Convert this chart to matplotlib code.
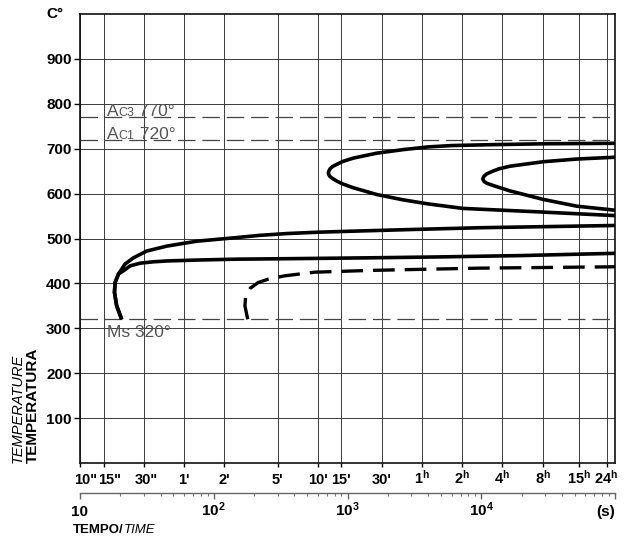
import matplotlib
matplotlib.use('Agg')
import matplotlib.pyplot as plt
import matplotlib.transforms as mtrans
from matplotlib.ticker import LogLocator, NullFormatter, NullLocator

plt.rcParams['font.family'] = ['Liberation Sans', 'DejaVu Sans']
plt.rcParams['mathtext.fontset'] = 'custom'
plt.rcParams['mathtext.rm'] = 'Liberation Sans'
plt.rcParams['mathtext.bf'] = 'Liberation Sans:bold'
plt.rcParams['mathtext.it'] = 'Liberation Sans:italic'

# ---------------- data ----------------
time_ticks = [10, 15, 30, 60, 120, 300, 600, 900, 1800, 3600, 7200, 14400, 28800, 54000, 86400]
time_labels = ['10"', '15"', '30"', "1'", "2'", "5'", "10'", "15'", "30'",
               r"1$^\mathbf{h}$", r"2$^\mathbf{h}$", r"4$^\mathbf{h}$", r"8$^\mathbf{h}$",
               r"15$^\mathbf{h}$", r"24$^\mathbf{h}$"]
temp_ticks = [100, 200, 300, 400, 500, 600, 700, 800, 900]
temp_labels = ['100', '200', '300', '400', '500', '600', '700', '800', '900']
decade_ticks = [10, 100, 1000, 10000]
decade_labels = ['10', r'10$^\mathbf{2}$', r'10$^\mathbf{3}$', r'10$^\mathbf{4}$']

ref_temps = [770, 720, 320]
ref_names = ['Ac3', 'Ac1', 'Ms']

# bainite start curve (upper solid)
bs_time = [20.5, 18.8, 18.1, 18.3, 19.4, 21.7, 25.1, 31.5, 44.5, 74.6, 148, 220, 351,
           600, 1000, 3000, 9800, 100000]
bs_temp = [320, 350, 380, 402, 421, 443, 457, 472, 483, 494, 502, 507, 511,
           514, 516, 520, 524, 529]
# lower solid curve
bl_time = [20.5, 18.8, 18.1, 18.3, 19.4, 21.1, 23.7, 28.1, 35, 44.5, 74.6, 150, 351,
           1500, 4900, 20000, 100000]
bl_temp = [320, 350, 380, 402, 421, 428, 439, 445, 448, 450, 452, 454, 455,
           457, 459, 462, 467]
# dashed curve
bd_time = [179.5, 171, 173, 187, 215, 256, 341, 571, 1500, 9800, 100000]
bd_temp = [320, 350, 369, 389, 402, 409.5, 417, 425, 429, 434, 437]
# outer pearlite C-curve
po_time = [100000, 30000, 12000, 6000, 4018, 2612, 1652, 1105, 930, 830, 770, 740, 725, 719,
           725, 740, 770, 830, 930, 1105, 1652, 2612, 4018, 7300, 24000, 100000]
po_temp = [712, 711, 709, 707, 704, 698, 690, 679, 672, 665, 660, 655, 650, 646,
           642, 638, 634, 628, 621, 613, 598, 586, 577, 567, 560, 551]
# inner pearlite C-curve
pi_time = [100000, 51800, 29100, 16400, 13500, 12000, 11000, 10500, 10260,
           10500, 11000, 12000, 13500, 16400, 29100, 51800, 100000]
pi_temp = [681, 677, 671, 661, 655, 649, 644, 639, 633,
           627, 623, 619, 614, 606, 587, 572, 563]

# ---------------- figure ----------------
W, H = 629, 537
fig = plt.figure(figsize=(W / 100, H / 100), dpi=100)
L, R, T, B = 80, 615, 14, 463
ax = fig.add_axes([L / W, 1 - B / H, (R - L) / W, (B - T) / H])
ax.set_xscale('log')
ax.set_xlim(10, 100000)
ax.set_ylim(0, 1000)

ax.set_xticks(time_ticks)
ax.set_xticklabels(time_labels, fontsize=10.5, fontweight='bold')
ax.xaxis.set_minor_locator(NullLocator())
ax.set_yticks(temp_ticks)
ax.set_yticklabels(temp_labels, fontsize=11, fontweight='bold')
ax.tick_params(axis='x', direction='out', length=3, width=1, pad=12)
ax.tick_params(axis='y', direction='out', length=4, width=1, pad=2)
for lab in ax.get_xticklabels():
    lab.set_va('baseline')
shifts = {0: 6, 1: 6, 2: 3}
for i, lab in enumerate(ax.get_xticklabels()):
    if i in shifts:
        lab.set_transform(lab.get_transform() +
                          mtrans.ScaledTranslation(shifts[i] / 100, 0, fig.dpi_scale_trans))
ax.grid(True, color='#3a3a3a', linewidth=0.7)
for s in ax.spines.values():
    s.set_linewidth(1.2)
    s.set_color('#111111')

ax.text(-0.032, 1.0, 'C°', transform=ax.transAxes, ha='right', va='center',
        fontsize=11, fontweight='bold')

# reference dashed lines
for temp in ref_temps:
    ax.axhline(temp, color='#444444', linewidth=0.9, dashes=(14, 5.5), zorder=2)

label_color = '#555555'
for name, temp in zip(ref_names, ref_temps):
    if name == 'Ms':
        ax.text(15.9, temp - 12, 'Ms 320°', fontsize=12.5, color=label_color,
                ha='left', va='top')
    else:
        t1 = ax.text(15.9, temp + 2, 'A', fontsize=12.5, color=label_color,
                     ha='left', va='baseline')
        t2 = ax.annotate('C' + name[-1], xy=(1, 0), xycoords=t1, fontsize=9,
                         color=label_color, ha='left', va='bottom')
        ax.annotate(' %d°' % temp, xy=(1, 0), xycoords=t2, fontsize=12.5,
                    color=label_color, ha='left', va='bottom')

# curves
lw = 2.6
ax.plot(bs_time, bs_temp, color='black', linewidth=lw, solid_capstyle='butt',
        solid_joinstyle='round', zorder=3)
ax.plot(bl_time, bl_temp, color='black', linewidth=lw, solid_capstyle='butt',
        solid_joinstyle='round', zorder=3)
ax.plot(bd_time, bd_temp, color='black', linewidth=2.4, dashes=(6.5, 3), zorder=3)
ax.plot(po_time, po_temp, color='black', linewidth=lw, solid_joinstyle='round', zorder=3)
ax.plot(pi_time, pi_temp, color='black', linewidth=lw, solid_joinstyle='round', zorder=3)

# lower seconds axis
ax2 = fig.add_axes([L / W, 1 - 493 / H, (R - L) / W, 0.001])
ax2.set_xscale('log')
ax2.set_xlim(10, 100000)
ax2.set_yticks([])
for k in ['top', 'left', 'right']:
    ax2.spines[k].set_visible(False)
ax2.spines['bottom'].set_color('#666666')
ax2.spines['bottom'].set_linewidth(1.0)
ax2.patch.set_visible(False)
ax2.set_xticks(decade_ticks + [100000])
ax2.set_xticklabels(decade_labels + [''], fontsize=11, fontweight='bold')
ax2.xaxis.set_minor_locator(LogLocator(base=10, subs=range(2, 10)))
ax2.xaxis.set_minor_formatter(NullFormatter())
ax2.tick_params(axis='x', which='major', direction='out', length=4, width=1,
                color='#666666', pad=12.5)
ax2.tick_params(axis='x', which='minor', direction='out', length=2.5, width=0.8,
                color='#777777')
for lab in ax2.get_xticklabels():
    lab.set_va('baseline')
ax2.annotate('(s)', xy=(1, 0), xycoords='axes fraction', xytext=(0, -16.5),
             textcoords='offset points', fontsize=11, fontweight='bold',
             ha='right', va='baseline', annotation_clip=False)

# axis titles
fig.text(33 / W, 1 - B / H, 'TEMPERATURA', rotation=90, fontsize=11,
         fontweight='bold', ha='center', va='bottom')
fig.text(18 / W, 1 - B / H, 'TEMPERATURE', rotation=90, fontsize=10.5,
         style='italic', ha='center', va='bottom')
tt = fig.text(73 / W, 1 - 533 / H, 'TEMPO/', fontsize=9.5, fontweight='bold',
              ha='left', va='baseline')
fig.add_artist(matplotlib.text.Annotation('TIME', xy=(1, 0), xycoords=tt, fontsize=9.5,
                                          style='italic', ha='left', va='bottom',
                                          annotation_clip=False))

fig.savefig('out.png', dpi=100)
